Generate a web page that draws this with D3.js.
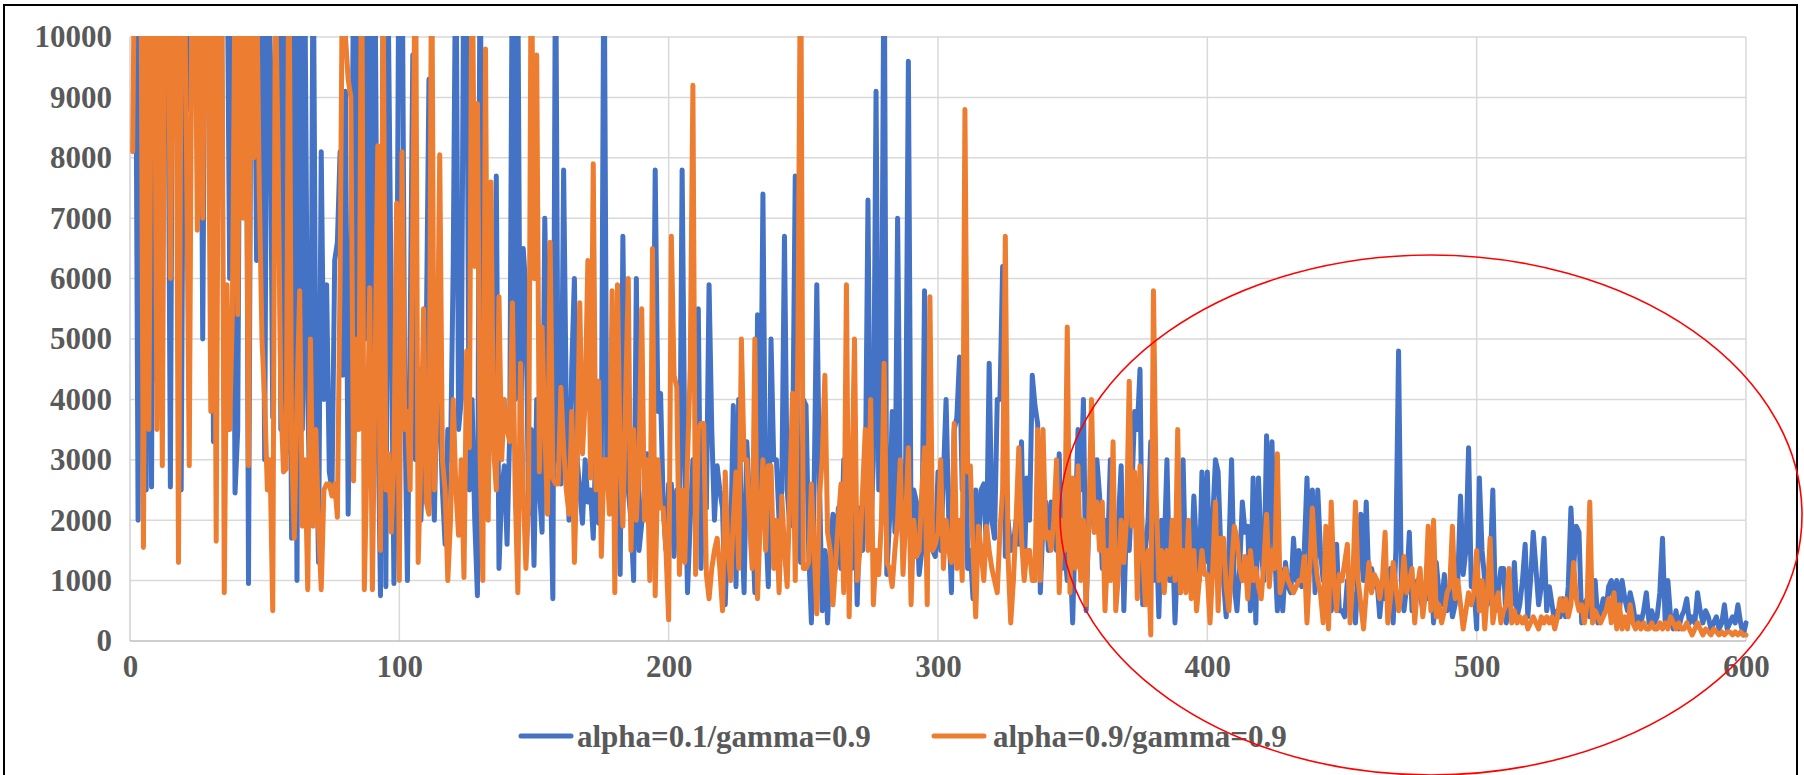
<!DOCTYPE html>
<html><head><meta charset="utf-8">
<script src="https://cdn.jsdelivr.net/npm/d3@7"></script>
<style>html,body{margin:0;padding:0;background:#fff;overflow:hidden}</style>
</head><body>
<svg id="chart" width="1804" height="775"></svg>
<script>
const seriesNames = ["alpha=0.1/gamma=0.9", "alpha=0.9/gamma=0.9"];
const xTicks = [0, 100, 200, 300, 400, 500, 600];
const yTicks = [0, 1000, 2000, 3000, 4000, 5000, 6000, 7000, 8000, 9000, 10000];
const episodes = d3.range(1, 601);
const blueValues = [
14000,12000,2000,13000,11000,2500,12000,2550,14000,4300,
13000,10500,12000,11000,2550,13000,12000,14000,2500,11000,
13000,8800,12000,14000,11000,13000,5000,12000,14000,11000,
3300,12000,10500,13000,11000,12000,6000,11000,2450,3500,
12000,10500,13000,950,11000,12000,6300,6500,10500,3000,
12000,9500,3700,11000,13000,3500,12000,3100,8800,1700,
11000,1000,12000,3500,10500,4000,1950,12000,4000,1300,
8100,4000,5900,2800,2500,6300,6600,8100,4400,9100,
2100,5500,11000,3500,12000,4000,10500,5000,12000,2500,
11000,4000,750,11000,900,10000,5500,950,4500,13000,
12000,4000,1000,5000,9700,3000,4500,2000,3500,5000,
9300,3000,2000,4500,3800,2500,1600,3500,3000,6200,
12000,3500,4000,12000,11000,2500,4000,2000,750,12000,
3000,2200,2500,5000,3500,7700,1200,2500,2900,1600,
3500,12000,4000,11000,3000,6500,5800,2100,3500,1250,
4000,2500,1800,7000,4500,3000,700,12000,3000,2600,
7800,3800,2000,4500,6000,3000,2500,1950,3000,2300,
2500,1700,3300,1950,3000,12000,3000,2500,3500,2000,
3000,1100,6700,3000,2500,2000,1000,6000,1500,1950,
2500,3100,2000,2500,7800,3800,4100,2200,1500,2600,
2600,1400,2500,1800,7800,3000,800,2000,3000,2500,
5500,1200,2700,2200,5900,3500,2000,2900,2500,2200,
600,2000,1500,3900,900,4000,2000,800,3300,2300,
2000,800,5400,2500,7400,2000,900,5000,3000,3000,
2000,2500,6700,2500,1900,3000,7700,2500,1300,4000,
3900,1500,300,2500,5900,2600,500,1500,300,1500,
2100,1200,2200,1200,3000,1500,2000,1200,2600,600,
2200,1500,2500,7300,1700,3000,9100,2500,4000,12000,
1100,2000,3800,1800,7000,2500,1500,3000,9600,1800,
2500,2300,1100,1500,5800,2500,1800,1500,1400,2800,
1500,2700,4000,2000,800,3500,3700,4700,2500,5600,
1200,1500,700,2500,1500,2500,2600,1500,4600,2000,
1700,4000,4000,6200,1400,2000,1500,1600,2000,1600,
3300,1100,2700,2000,4400,3900,3600,800,2000,2300,
1500,2300,1800,1500,3100,1200,1500,1000,1500,300,
2000,3500,2500,4000,500,2000,3000,1800,3000,2400,
1200,2000,1500,3000,1500,1000,2000,2900,500,2000,
1500,2500,3800,3500,4500,600,1500,2000,3300,1000,
1900,400,2000,1500,3000,1000,1800,300,1500,800,
3000,1000,1500,1200,2400,1500,1000,2800,1300,2800,
900,2000,3000,2800,1500,1000,400,1500,3000,900,
500,1200,2300,1800,1900,500,2700,300,2700,1500,
1000,3400,1500,3300,1500,500,1200,500,1300,900,
800,1700,1000,1500,900,1500,2700,1200,2500,800,
2500,1500,1000,1300,800,500,1000,1600,500,500,
400,1000,1000,700,300,1200,2100,1000,2300,900,
1200,900,1000,400,900,700,1000,1200,300,1500,
4800,1000,500,900,1800,500,700,1000,800,500,
900,700,1300,300,1300,800,600,1100,500,900,
400,600,1000,2400,1100,1500,3200,900,900,200,
2700,1500,1000,600,1200,2500,500,800,1200,1200,
300,800,600,1300,400,600,1000,1600,400,1000,
1800,1200,600,900,1700,500,900,600,300,500,
400,700,400,900,2200,1200,1900,1800,300,600,
700,400,600,1000,300,500,700,500,900,1000,
600,1000,500,1000,700,500,800,600,300,400,
300,500,800,300,500,300,400,800,1700,300,
1000,400,200,500,200,400,500,700,300,400,
300,800,500,300,500,400,200,300,400,200,
300,600,200,300,400,300,600,300,100,300];
const orangeValues = [
8100,13000,11000,12000,1550,12000,3500,11000,12000,3500,
11000,2900,12000,13000,6000,11000,12000,1300,10500,12000,
8000,2900,11000,12000,6800,11000,7000,12000,10500,3800,
12000,1650,11000,13000,800,5900,3500,5400,11000,5400,
12000,7000,10500,2900,12000,8000,11000,7500,5000,4000,
2500,3000,500,11000,8000,4000,2800,2850,12000,3200,
1700,4000,5800,1900,3000,850,5000,1900,3500,1900,
850,2500,2600,2600,2400,2600,2050,6000,12000,10000,
9300,9000,2650,5000,3500,12000,850,3000,5850,850,
4500,8200,1500,11000,2500,3100,1800,3000,7250,1000,
8100,3500,3800,2500,7000,12000,1300,3000,5500,2300,
2100,12000,2500,4000,8050,3000,2500,1000,2000,4000,
2500,1750,3000,1050,4800,3200,12000,6200,8900,3000,
1000,9800,2000,7600,3200,2500,5700,3000,4000,3500,
3300,5600,2500,800,4600,2500,1200,2300,12000,6000,
9700,2800,5200,3500,2100,6600,2700,2600,2600,4200,
3200,2500,2100,3800,1300,3000,5600,3100,4000,6300,
2700,7900,2500,4300,1400,3000,3000,2100,5800,800,
5900,3000,1900,4000,6000,1500,3500,2000,3000,5500,
2000,3000,1000,6500,750,3000,2200,2200,1500,350,
6700,4400,4200,1100,2500,1300,3000,4500,9200,1100,
3500,3600,3600,1100,700,1200,1500,1700,1200,500,
2800,1500,1000,2000,2800,1200,5000,3000,3000,2000,
1200,5000,700,2000,3000,1500,2900,2900,1200,2000,
800,2400,1500,900,2500,4100,1000,5000,12000,1200,
1200,1300,2600,1500,450,2400,3000,4400,1800,1500,
600,1300,2000,2600,800,5900,400,2500,5000,1000,
1500,2500,3500,1500,4000,600,1500,1100,2000,4600,
1300,1200,900,1500,2000,3000,1100,2000,3200,600,
2000,1400,1500,2500,3200,600,5700,1500,1600,1800,
3000,1200,2000,1500,1300,3600,1200,2000,1000,8800,
2800,2900,1500,400,1900,1500,1000,1900,1500,1200,
1000,800,1800,2500,6700,1400,300,1000,2000,3200,
1700,1000,1500,1500,1000,1000,3500,1000,3500,1700,
1800,1500,2000,3000,800,2000,1500,5200,800,2700,
1200,2900,1000,2000,600,2000,4000,1800,2300,1500,
2300,500,1500,1000,3300,500,1100,2000,1300,2000,
4300,1900,2800,700,2900,1500,600,1500,100,5800,
2400,1000,1500,800,1500,1100,2000,1000,3500,800,
1500,800,2000,700,1500,500,1000,1500,1100,1100,
300,1200,2300,500,1700,1700,900,500,1200,1900,
1700,1200,1000,1400,700,1500,1000,1200,900,700,
1300,2100,900,1500,1200,3100,800,1000,1200,1000,
900,800,900,1000,1000,1400,300,1200,2200,1400,
1000,800,300,1900,200,2300,1000,500,1100,1000,
1300,1600,300,1000,2300,1000,600,200,800,1300,
800,1100,1000,700,1000,1800,300,700,1300,900,
500,800,1400,800,1000,1200,300,900,1200,400,
800,1900,500,2000,400,600,300,500,800,900,
1900,700,1000,600,200,500,800,600,800,1500,
500,1000,200,800,1700,300,600,800,300,500,
600,1200,300,500,300,400,300,400,200,300,
400,300,200,400,300,400,300,400,200,400,
700,500,700,400,600,1300,700,500,600,300,
600,2300,300,500,400,300,400,500,700,300,
800,200,600,200,400,200,600,300,200,300,
200,300,200,200,300,200,200,300,200,300,
200,400,300,200,300,200,200,300,200,100,
200,300,200,100,200,150,100,200,150,100,
150,100,150,150,100,150,100,150,100,100];

const svg = d3.select("#chart");
const W = 1804, H = 775;
const m = {left:130, right:1746, top:37, bottom:641};
const font = "'Liberation Serif','Times New Roman',serif";

svg.append("rect").attr("width", W).attr("height", H).attr("fill", "#fff");
svg.append("rect").attr("x", 4).attr("y", 5).attr("width", 1793).attr("height", 790)
  .attr("fill", "none").attr("stroke", "#000").attr("stroke-width", 2);

const x = d3.scaleLinear().domain([0, 600]).range([m.left, m.right]);
const y = d3.scaleLinear().domain([0, 10000]).range([m.bottom, m.top]);

// gridlines
svg.append("g").selectAll("line.h").data(yTicks.filter(d => d > 0)).join("line")
  .attr("x1", m.left).attr("x2", m.right).attr("y1", d => y(d)).attr("y2", d => y(d))
  .attr("stroke", "#d9d9d9").attr("stroke-width", 1.5);
svg.append("g").selectAll("line.v").data(xTicks.filter(d => d > 0)).join("line")
  .attr("x1", d => x(d)).attr("x2", d => x(d)).attr("y1", m.top).attr("y2", m.bottom)
  .attr("stroke", "#d9d9d9").attr("stroke-width", 1.5);
svg.append("line").attr("x1", m.left).attr("x2", m.left).attr("y1", m.top).attr("y2", m.bottom)
  .attr("stroke", "#d0d0d0").attr("stroke-width", 1.5);
svg.append("line").attr("x1", m.left).attr("x2", m.right).attr("y1", m.bottom).attr("y2", m.bottom)
  .attr("stroke", "#bfbfbf").attr("stroke-width", 1.5);

// axis labels
const yAxis = d3.axisLeft(y).tickValues(yTicks).tickSize(0).tickPadding(18).tickFormat(d3.format("d"));
const gy = svg.append("g").attr("transform", `translate(${m.left},0)`).call(yAxis);
gy.select(".domain").remove();
gy.selectAll("text").attr("font-family", font).attr("font-weight", "bold")
  .attr("font-size", 31).attr("fill", "#595959");

const xAxis = d3.axisBottom(x).tickValues(xTicks).tickSize(0).tickPadding(14).tickFormat(d3.format("d"));
const gx = svg.append("g").attr("transform", `translate(0,${m.bottom})`).call(xAxis);
gx.select(".domain").remove();
gx.selectAll("text").attr("font-family", font).attr("font-weight", "bold")
  .attr("font-size", 31).attr("fill", "#595959");

// clip
svg.append("clipPath").attr("id", "plotclip").append("rect")
  .attr("x", m.left - 4).attr("y", m.top - 1).attr("width", m.right - m.left + 8).attr("height", m.bottom - m.top + 4);

const line = d3.line().x((d, i) => x(episodes[i])).y(d => y(d));
const colors = ["#4472C4", "#ED7D31"];
const g = svg.append("g").attr("clip-path", "url(#plotclip)");
[blueValues, orangeValues].forEach((vals, k) => {
  g.append("path").attr("d", line(vals)).attr("fill", "none")
    .attr("stroke", colors[k]).attr("stroke-width", 5)
    .attr("stroke-linejoin", "round").attr("stroke-linecap", "round");
});

// legend
const legendPos = [{lx: 521, tx: 577}, {lx: 934, tx: 993}];
const ly = 736;
seriesNames.forEach((name, k) => {
  svg.append("line").attr("x1", legendPos[k].lx).attr("x2", legendPos[k].lx + 50)
    .attr("y1", ly).attr("y2", ly).attr("stroke", colors[k]).attr("stroke-width", 5)
    .attr("stroke-linecap", "round");
  svg.append("text").attr("x", legendPos[k].tx).attr("y", ly + 11)
    .attr("font-family", font).attr("font-weight", "bold").attr("font-size", 31)
    .attr("fill", "#595959").text(name);
});

// red annotation ellipse
svg.append("ellipse").attr("cx", 1431).attr("cy", 515).attr("rx", 371).attr("ry", 260)
  .attr("fill", "none").attr("stroke", "#FF0000").attr("stroke-width", 1.6);
</script>
</body></html>
